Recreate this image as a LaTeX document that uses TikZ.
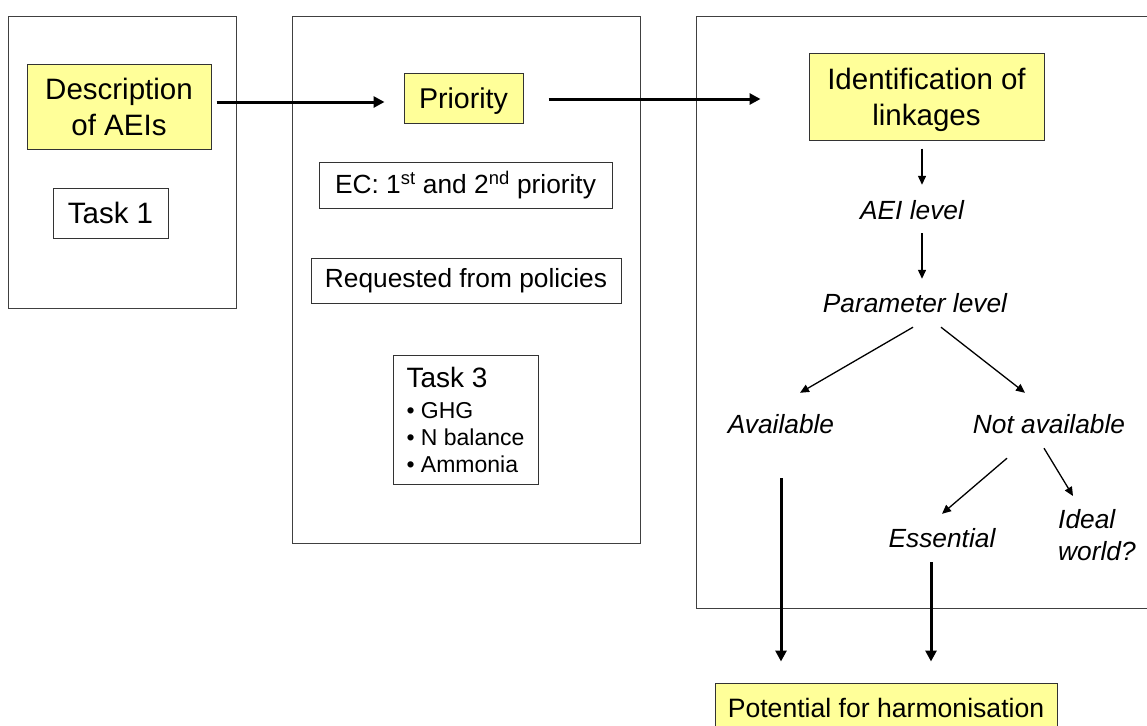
\documentclass[tikz,border=0pt]{standalone}
\usepackage{fontspec}
\setmainfont{Liberation Sans}
\usepackage{xcolor}
\usetikzlibrary{arrows.meta}
\definecolor{hlyellow}{HTML}{FFFF99}

\begin{document}
\begin{tikzpicture}[x=1pt, y=-1pt, ->, >={Triangle[length=9pt, width=8pt]}, font=\fontsize{26.3}{32}\selectfont]
	\tikzstyle{panel}=[draw=black!75, line width=1pt, rectangle, fill=none, inner sep=0pt]
	\tikzstyle{hlbox}=[draw=black!80, line width=1pt, rectangle, fill=hlyellow, align=center, inner sep=0pt, text depth=0pt, font=\fontsize{29.5}{36}\selectfont]
	\tikzstyle{plainbox}=[draw=black!80, line width=1pt, rectangle, fill=white, align=center, inner sep=0pt]
	\tikzstyle{lvl}=[font=\itshape\fontsize{26.3}{32}\selectfont, inner sep=0pt, anchor=base, text height=19pt, text depth=0pt]
	\tikzstyle{flow}=[line width=3pt, -{Triangle[length=11pt, width=11pt]}]
	\tikzstyle{link}=[line width=1.3pt, ->]

	\useasboundingbox (0,0) rectangle (1147,725);
	\clip (0,0) rectangle (1147,725);

	\node[panel, minimum width=228pt, minimum height=291pt] (stage1) at (122,162.5) {};
	\node[panel, minimum width=348pt, minimum height=526pt] (stage2) at (466,280) {};
	\node[panel, minimum width=472pt, minimum height=591pt] (stage3) at (932,312.5) {};

	\node[hlbox, minimum width=184pt, minimum height=85pt] (desc) at (119,106.5) {Description\\of AEIs};
	\node[plainbox, minimum width=115pt, minimum height=50pt, font=\fontsize{29.5}{36}\selectfont] (task1) at (110.5,213) {Task 1};

	\node[hlbox, minimum width=119pt, minimum height=50pt, font=\fontsize{28.6}{36}\selectfont] (prio) at (463.5,98) {Priority};
	\node[plainbox, minimum width=293pt, minimum height=46pt] (ec) at (465.5,185) {EC: 1\textsuperscript{st} and 2\textsuperscript{nd} priority};
	\node[plainbox, minimum width=310pt, minimum height=45pt] (req) at (466,280.5) {Requested from policies};
	\node[plainbox, minimum width=145pt, minimum height=129pt, align=left, font=\fontsize{23}{27}\selectfont] (task3) at (465.5,419.5) {{\fontsize{28}{31}\selectfont Task 3}\\[4pt]• GHG\\• N balance\\• Ammonia};

	\node[hlbox, minimum width=235pt, minimum height=86pt] (ident) at (926.5,97) {Identification of\\linkages};
	\node[lvl] (aei) at (912,219) {AEI level};
	\node[lvl] (param) at (915,312) {Parameter level};
	\node[lvl] (avail) at (781,433) {Available};
	\node[lvl] (notav) at (1049,433) {Not available};
	\node[lvl] (ess) at (942,547) {Essential};
	\node[font=\itshape\fontsize{26.3}{32}\selectfont, inner sep=0pt, anchor=north west, align=left] (ideal) at (1058,509) {Ideal\\world?};
	\node[hlbox, minimum width=342pt, minimum height=50pt, font=\fontsize{26.6}{32}\selectfont] (pot) at (886,708) {Potential for harmonisation};

	\draw[flow] ([xshift=5pt,yshift=4.5pt]desc.east) -- ([xshift=-19pt,yshift=-4pt]prio.west);
	\draw[flow] ([xshift=25pt,yshift=-1pt]prio.east) -- ([xshift=-48pt,yshift=-2pt]ident.west);

	\draw[link] ([xshift=-4.5pt,yshift=-8pt]ident.south) -- ([xshift=10pt,yshift=15pt]aei.north);
	\draw[link] ([xshift=10pt,yshift=-14pt]aei.south) -- ([xshift=7pt,yshift=14pt]param.north);
	\draw[link] ([xshift=-2pt,yshift=-15pt]param.south) -- ([xshift=19pt,yshift=21pt]avail.north);
	\draw[link] ([xshift=26pt,yshift=-15pt]param.south) -- ([xshift=-24pt,yshift=21pt]notav.north);
	\draw[link] ([xshift=-42pt,yshift=-25pt]notav.south) -- ([yshift=14pt]ess.north);
	\draw[link] ([xshift=-5pt,yshift=-15pt]notav.south) -- ([xshift=15pt,yshift=13pt]ideal.north west);

	\draw[flow] ([yshift=-45pt]avail.south) -- ([xshift=-105pt,yshift=21pt]pot.north);
	\draw[flow] ([xshift=-11pt,yshift=-15pt]ess.south) -- ([xshift=45pt,yshift=21pt]pot.north);
\end{tikzpicture}
\end{document}
